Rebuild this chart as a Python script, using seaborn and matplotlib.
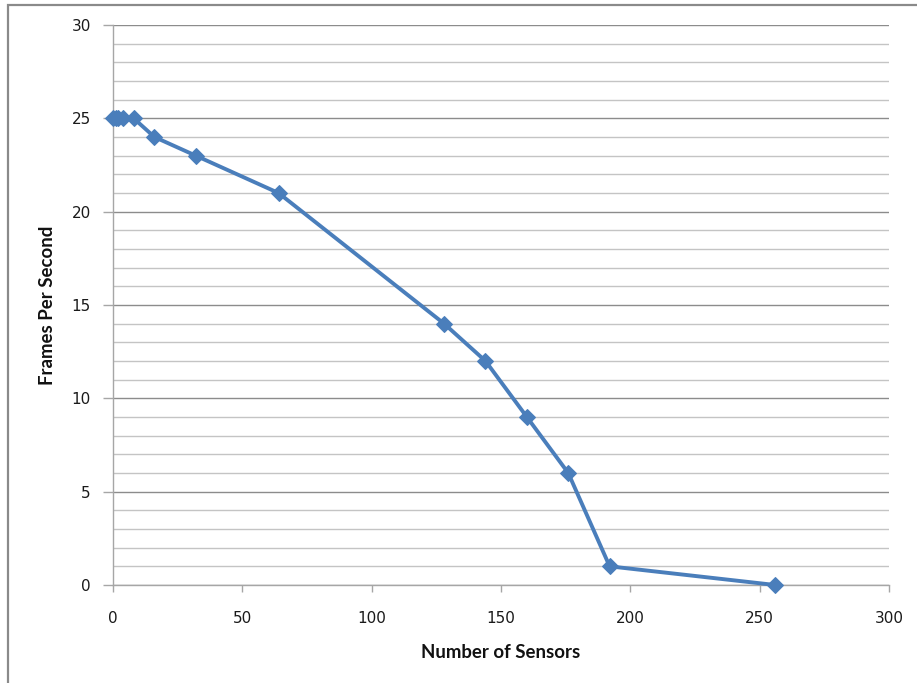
import matplotlib
matplotlib.use("Agg")
import matplotlib.pyplot as plt
from matplotlib.patches import Rectangle
from matplotlib.ticker import MultipleLocator
import seaborn as sns
import pandas as pd

sensors = [0, 1, 2, 4, 8, 16, 32, 64, 128, 144, 160, 176, 192, 256]
fps = [25, 25, 25, 25, 25, 24, 23, 21, 14, 12, 9, 6, 1, 0]
x_ticks = [0, 50, 100, 150, 200, 250, 300]
y_ticks = [0, 5, 10, 15, 20, 25, 30]

sns.set_theme(style="white")
plt.rcParams["font.family"] = ["DejaVu Sans"]

df = pd.DataFrame({"Number of Sensors": sensors, "Frames Per Second": fps})

fig = plt.figure(figsize=(9.17, 6.83), dpi=100)
ax = fig.add_axes([113 / 917, 1 - 585 / 683, (889 - 113) / 917, (585 - 25) / 683])

blue = "#4a7ebb"
sns.lineplot(data=df, x="Number of Sensors", y="Frames Per Second", ax=ax,
             color=blue, linewidth=2.8, marker="D", markersize=8.5,
             markeredgecolor=blue, markerfacecolor=blue, zorder=5, clip_on=False)

ax.set_xlim(0, 300)
ax.set_ylim(0, 30)
ax.set_xticks(x_ticks)
ax.set_yticks(y_ticks)
ax.yaxis.set_minor_locator(MultipleLocator(1))
ax.grid(which="major", axis="y", color="#8c8c8c", linewidth=1)
ax.grid(which="minor", axis="y", color="#c4c4c4", linewidth=1)
ax.grid(which="major", axis="x", visible=False)
ax.set_axisbelow(True)

for side in ["top", "right"]:
    ax.spines[side].set_visible(False)
for side in ["left", "bottom"]:
    ax.spines[side].set_color("#a6a6a6")
    ax.spines[side].set_linewidth(1)

ax.tick_params(axis="y", which="major", direction="out", length=7, width=1,
               color="#a6a6a6", labelsize=11, labelcolor="#1a1a1a", pad=9, left=True)
ax.tick_params(axis="y", which="minor", length=0)
ax.tick_params(axis="x", which="major", direction="out", length=5, width=1,
               color="#a6a6a6", labelsize=11, labelcolor="#1a1a1a", pad=14, bottom=True)

label_font = {"family": "Lato", "size": 13.4, "weight": "bold", "color": "#111111"}
ax.set_xlabel("Number of Sensors", fontdict=label_font, labelpad=13)
ax.set_ylabel("Frames Per Second", fontdict=label_font, labelpad=11)

# chart frame
fig.add_artist(Rectangle((8 / 917, -0.1), 1.2, 1 - 5 / 683 + 0.1,
                         transform=fig.transFigure, fill=False,
                         edgecolor="#8a8a8a", linewidth=1.6))

fig.savefig("out.png", dpi=100)
